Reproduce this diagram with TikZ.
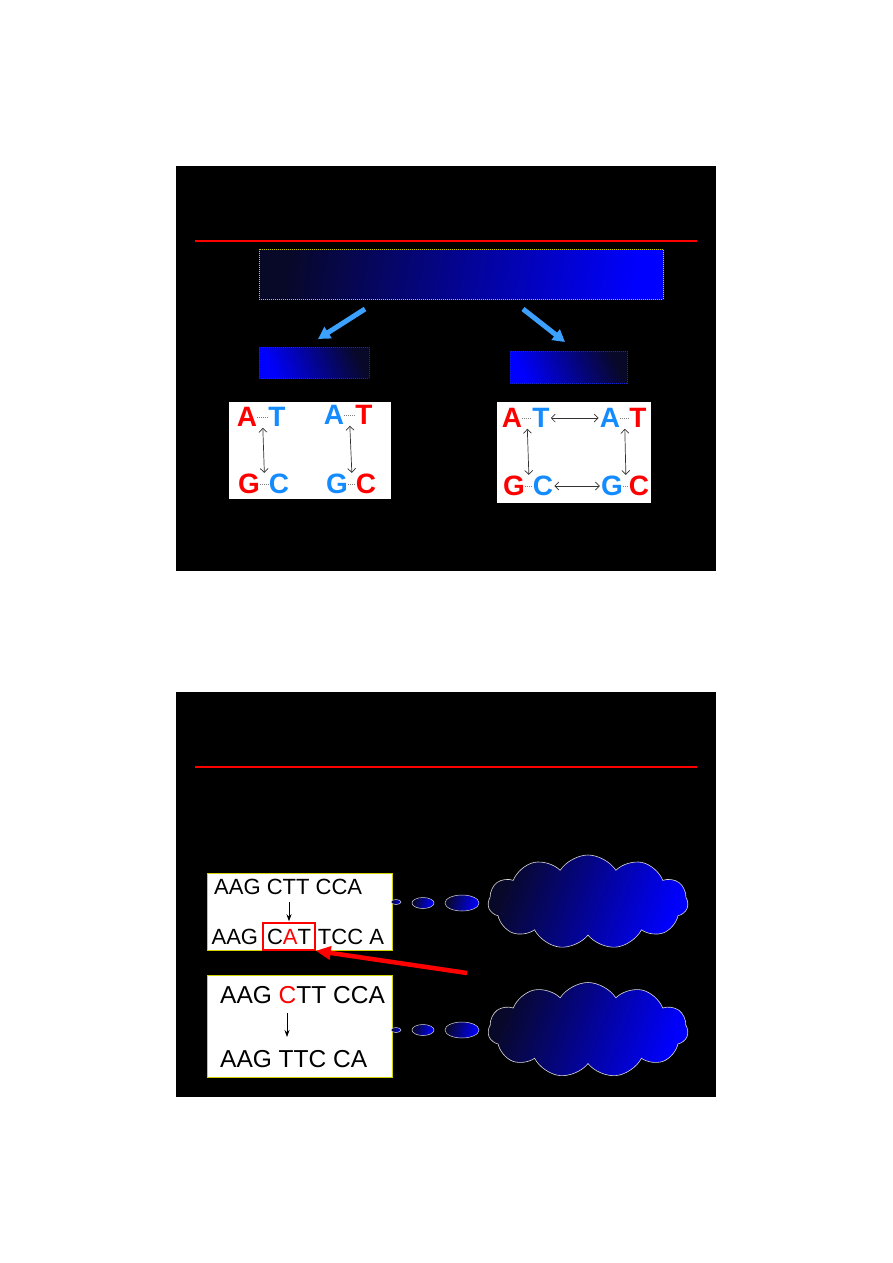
\documentclass[tikz,border=0pt]{standalone}
\usepackage{fontspec}
\setmainfont{Liberation Sans}
\usetikzlibrary{arrows.meta,positioning,shapes.geometric,shapes.symbols,calc}
\definecolor{slidered}{RGB}{255,0,0}
\definecolor{basered}{RGB}{255,0,0}
\definecolor{baseblue}{RGB}{20,140,255}
\definecolor{skyarrow}{RGB}{60,160,255}
\definecolor{deepnavy}{RGB}{8,8,40}
\definecolor{brightblue}{RGB}{0,0,255}
\definecolor{framegold}{RGB}{210,210,0}
\definecolor{framenavy}{RGB}{20,40,200}

\begin{document}
\begin{tikzpicture}[x=1pt, y=-1pt,
  slide/.style={fill=black, anchor=north west, inner sep=0pt, minimum width=540pt, minimum height=405pt},
  rulerline/.style={slidered, line width=1.3pt},
  banner/.style={anchor=north west, inner sep=0pt, draw=framegold, line width=0.6pt,
                 dash pattern=on 1pt off 1pt, left color=deepnavy, right color=brightblue,
                 shading angle=80},
  subbanner/.style={anchor=north west, inner sep=0pt, draw=framenavy, line width=0.6pt,
                    dash pattern=on 1pt off 1pt, left color=brightblue, right color=deepnavy,
                    shading angle=115},
  split/.style={-{Triangle[length=12pt,width=13pt]}, line width=5pt, skyarrow},
  card/.style={fill=white, anchor=north west, inner sep=0pt},
  base/.style={font=\fontsize{28}{28}\selectfont\bfseries, inner sep=0pt},
  redbase/.style={base, text=basered},
  bluebase/.style={base, text=baseblue},
  bond/.style={gray, line width=0.8pt, dash pattern=on 1pt off 1pt},
  pairlink/.style={{Straight Barb[length=4pt]}-{Straight Barb[length=4pt]}, line width=0.7pt,
                   black!80, shorten <=1pt, shorten >=1pt},
  seq/.style={font=\fontsize{22}{22}\selectfont, inner sep=0pt, anchor=west},
  bigseq/.style={font=\fontsize{24.5}{24.5}\selectfont, inner sep=0pt, anchor=west},
  pointer/.style={-{Stealth[length=7pt,width=5pt]}, line width=0.8pt},
  hint/.style={-{Triangle[length=15pt,width=13pt]}, line width=4.5pt, basered},
  bubble/.style={ellipse, inner sep=0pt, draw=white!85!black, line width=0.5pt,
                 left color=deepnavy, right color=brightblue, shading angle=75},
  thought/.style={cloud, cloud puffs=11, cloud puff arc=115, inner sep=0pt,
                  draw=white!85!black, line width=0.6pt, left color=deepnavy, right color=brightblue,
                  shading angle=70}
]

% page
\fill[white] (0,0) rectangle (893,1263);
\useasboundingbox (0,0) rectangle (893,1263);

% slides
\node[slide] (slide1) at (176,166) {};
\node[slide] (slide2) at (176,692) {};
\coordinate (rule1w) at (195,241);
\coordinate (rule1e) at (697,241);
\draw[rulerline] (rule1w) -- (rule1e);
\coordinate (rule2w) at (195,767);
\coordinate (rule2e) at (697,767);
\draw[rulerline] (rule2w) -- (rule2e);

% top slide: gradient bars
\node[banner, minimum width=404pt, minimum height=50pt] (strand) at (259,249) {};
\node[subbanner, minimum width=110pt, minimum height=31pt] (leftbar) at (259,347) {};
\node[subbanner, minimum width=117pt, minimum height=32pt] (rightbar) at (510,351) {};

% split arrows
\coordinate (splitLs) at (365,309);
\coordinate (splitLe) at (318,339);
\coordinate (splitRs) at (523,309);
\coordinate (splitRe) at (565,342);
\draw[split] (splitLs) -- (splitLe);
\draw[split] (splitRs) -- (splitRe);

% left card
\node[card, minimum width=162pt, minimum height=97pt] (transcard) at (229,402) {};
\node[redbase] (a1) at (247,417) {A};
\node[bluebase] (t1) at (277,417) {T};
\node[redbase] (g1) at (249,484) {G};
\node[bluebase] (c1) at (279,484) {C};
\node[bluebase] (a2) at (334,415) {A};
\node[redbase] (t2) at (364,415) {T};
\node[bluebase] (g2) at (337,484) {G};
\node[redbase] (c2) at (366,484) {C};
\draw[bond] (a1) -- (t1);
\draw[bond] (g1) -- (c1);
\draw[bond] (a2) -- (t2);
\draw[bond] (g2) -- (c2);
\draw[pairlink] ($(a1.south east)!.5!(t1.south west)$) -- ($(g1.north east)!.5!(c1.north west)$);
\draw[pairlink] ($(a2.south east)!.5!(t2.south west)$) -- ($(g2.north east)!.5!(c2.north west)$);

% right card
\node[card, minimum width=154pt, minimum height=101pt] (transvcard) at (497,402) {};
\node[redbase] (a3) at (512,418) {A};
\node[bluebase] (t3) at (541,418) {T};
\node[bluebase] (a4) at (610,418) {A};
\node[redbase] (t4) at (638,418) {T};
\node[redbase] (g3) at (514,486) {G};
\node[bluebase] (c3) at (543,486) {C};
\node[bluebase] (g4) at (612,486) {G};
\node[redbase] (c4) at (639,486) {C};
\draw[bond] (a3) -- (t3);
\draw[bond] (a4) -- (t4);
\draw[bond] (g3) -- (c3);
\draw[bond] (g4) -- (c4);
\draw[pairlink] (t3.east) -- (a4.west);
\draw[pairlink] (c3.east) -- (g4.west);
\draw[pairlink] ($(a3.south east)!.5!(t3.south west)$) -- ($(g3.north east)!.5!(c3.north west)$);
\draw[pairlink] ($(a4.south east)!.5!(t4.south west)$) -- ($(g4.north east)!.5!(c4.north west)$);

% bottom slide: substitution card
\node[card, draw=framegold, line width=0.8pt, minimum width=185pt, minimum height=77pt] (subcard) at (207,873) {};
\node[seq] (sub1) at (214,887) {AAG CTT CCA};
\node[draw=basered, line width=1.5pt, minimum width=52pt, minimum height=27pt, inner sep=0pt,
      font=\fontsize{22}{22}\selectfont] (catbox) at (289,936.5) {C\textcolor{basered}{A}T};
\node[seq, left=4pt of catbox] (sub2a) {AAG};
\node[seq, right=2pt of catbox] (sub2b) {TCC A};
\draw[pointer, shorten <=7pt, shorten >=1pt] (catbox.north |- sub1.south) -- (catbox.north);

% bottom slide: deletion card
\node[card, draw=framegold, line width=0.8pt, minimum width=185pt, minimum height=102pt] (delcard) at (207,975) {};
\node[bigseq] (del1) at (220,995) {AAG \textcolor{basered}{C}TT CCA};
\node[bigseq] (del2) at (220,1059) {AAG TTC CA};
\coordinate (delfrom) at (287,1013);
\coordinate (delto) at (287,1037);
\draw[pointer] (delfrom) -- (delto);

% red hint arrow
\coordinate (hintstart) at (467,973);
\draw[hint] (hintstart) -- (catbox.south east);

% thought bubbles
\node[bubble, minimum width=10pt, minimum height=5pt] (b1a) at (396,902) {};
\node[bubble, minimum width=22pt, minimum height=11pt] (b1b) at (423,903) {};
\node[bubble, minimum width=34pt, minimum height=16pt] (b1c) at (462,903) {};
\node[thought, minimum width=200pt, minimum height=94pt] (cloud1) at (588,902) {};
\node[bubble, minimum width=10pt, minimum height=5pt] (b2a) at (396,1030) {};
\node[bubble, minimum width=22pt, minimum height=11pt] (b2b) at (423,1030) {};
\node[bubble, minimum width=34pt, minimum height=16pt] (b2c) at (462,1030) {};
\node[thought, minimum width=200pt, minimum height=95pt] (cloud2) at (588,1030) {};

\end{tikzpicture}
\end{document}
